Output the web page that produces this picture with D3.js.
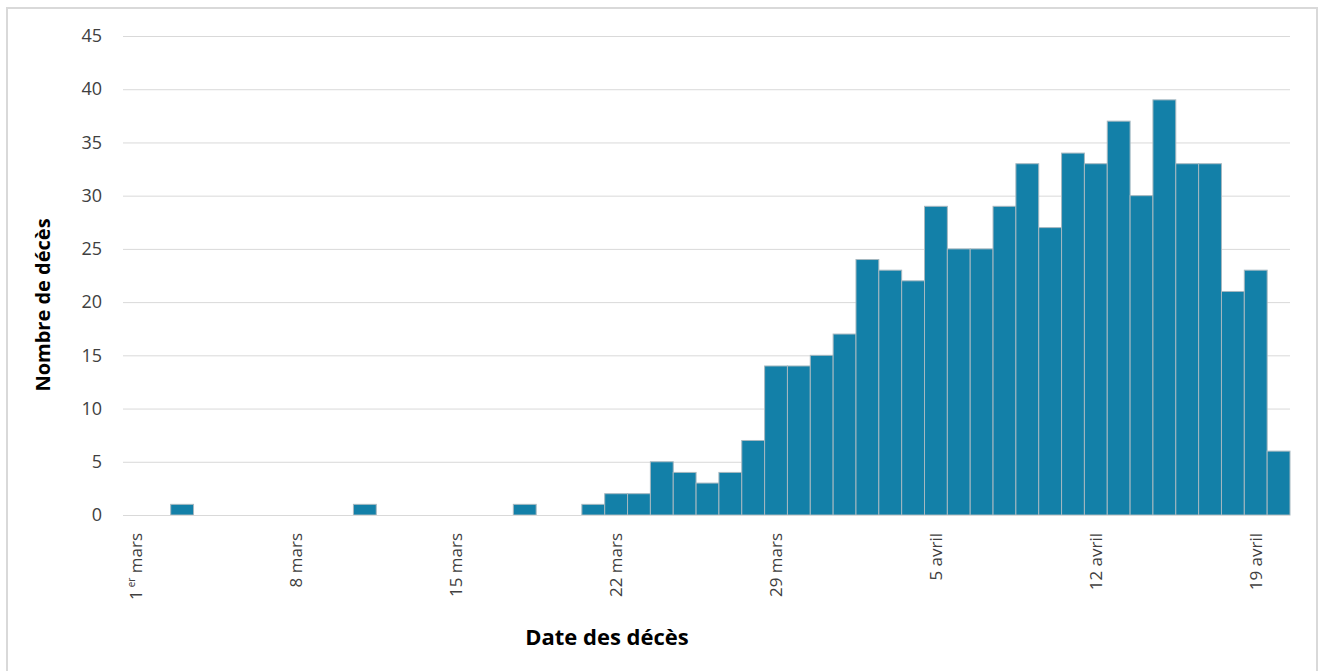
<!DOCTYPE html>
<html>
<head>
<meta charset="utf-8">
<script src="https://cdn.jsdelivr.net/npm/d3@7"></script>
<style>
  body { margin: 0; background: #fff; }
  text { font-family: "Open Sans", sans-serif; }
</style>
</head>
<body>
<div id="chart"></div>
<script>
// jours du 1er mars au 20 avril
var days = [];
for (var m = 1; m <= 31; m++) days.push("2020-03-" + String(m).padStart(2, "0"));
for (var a = 1; a <= 20; a++) days.push("2020-04-" + String(a).padStart(2, "0"));

var deaths = [
  0, 0, 1, 0, 0, 0, 0, 0, 0, 0,
  1, 0, 0, 0, 0, 0, 0, 1, 0, 0,
  1, 2, 2, 5, 4, 3, 4, 7, 14, 14,
  15, 17, 24, 23, 22, 29, 25, 25, 29, 33,
  27, 34, 33, 37, 30, 39, 33, 33, 21, 23,
  6
];

var tickDays = ["2020-03-01", "2020-03-08", "2020-03-15", "2020-03-22", "2020-03-29", "2020-04-05", "2020-04-12", "2020-04-19"];
var tickLabels = ["1|er| mars", "8 mars", "15 mars", "22 mars", "29 mars", "5 avril", "12 avril", "19 avril"];
var yTicks = [0, 5, 10, 15, 20, 25, 30, 35, 40, 45];

var width = 1325, height = 671;
var plotLeft = 125, plotRight = 1290, plotTop = 36, plotBottom = 515;

var svg = d3.select("#chart").append("svg")
  .attr("width", width)
  .attr("height", height);

// cadre
svg.append("rect")
  .attr("x", 7).attr("y", 8)
  .attr("width", 1310).attr("height", 680)
  .attr("fill", "none")
  .attr("stroke", "#d9d9d9")
  .attr("stroke-width", 2);

var x = d3.scaleBand().domain(days).range([plotLeft, plotRight]).padding(0);
var y = d3.scaleLinear().domain([0, 45]).range([plotBottom, plotTop]);

// grille
var yAxis = svg.append("g")
  .attr("transform", "translate(" + plotRight + ",0)")
  .call(d3.axisLeft(y).tickValues(yTicks).tickSize(plotRight - plotLeft + 2).tickPadding(21));
yAxis.select(".domain").remove();
yAxis.selectAll(".tick line").attr("stroke", "#d9d9d9").attr("stroke-width", 1);
yAxis.selectAll(".tick text")
  .attr("fill", "#404040")
  .style("font-size", "18px");

// barres
svg.selectAll("rect.bar").data(days)
  .enter().append("rect")
  .attr("class", "bar")
  .attr("x", function (d) { return x(d); })
  .attr("y", function (d, i) { return y(deaths[i]); })
  .attr("width", x.bandwidth())
  .attr("height", function (d, i) { return y(0) - y(deaths[i]); })
  .attr("fill", "#1380a8")
  .attr("stroke", "#a6b8c0")
  .attr("stroke-width", 1)
  .style("display", function (d, i) { return deaths[i] > 0 ? null : "none"; });

// axe x
svg.append("line")
  .attr("x1", plotLeft - 2).attr("x2", plotRight)
  .attr("y1", plotBottom + 0.5).attr("y2", plotBottom + 0.5)
  .attr("stroke", "#d9d9d9");

var xl = svg.append("g");
tickDays.forEach(function (d, i) {
  var cx = x(d) + x.bandwidth() / 2;
  var t = xl.append("text")
    .attr("transform", "translate(" + (cx + 6) + "," + (plotBottom + 18) + ") rotate(-90)")
    .attr("text-anchor", "end")
    .attr("fill", "#404040")
    .style("font-size", "17px");
  var parts = tickLabels[i].split("|");
  if (parts.length > 1) {
    t.append("tspan").text(parts[0]);
    t.append("tspan").text(parts[1]).style("font-size", "10px").attr("dy", "-7").attr("dx", "3");
    t.append("tspan").text(parts[2]).attr("dy", "7");
  } else {
    t.text(tickLabels[i]);
  }
});

// titres
svg.append("text")
  .attr("x", 607).attr("y", 645)
  .attr("text-anchor", "middle")
  .attr("fill", "#000")
  .style("font-size", "22px")
  .style("font-weight", "bold")
  .text("Date des décès");

svg.append("text")
  .attr("transform", "translate(50,305) rotate(-90)")
  .attr("text-anchor", "middle")
  .attr("fill", "#000")
  .style("font-size", "20px")
  .style("font-weight", "bold")
  .text("Nombre de décès");
</script>
</body>
</html>
